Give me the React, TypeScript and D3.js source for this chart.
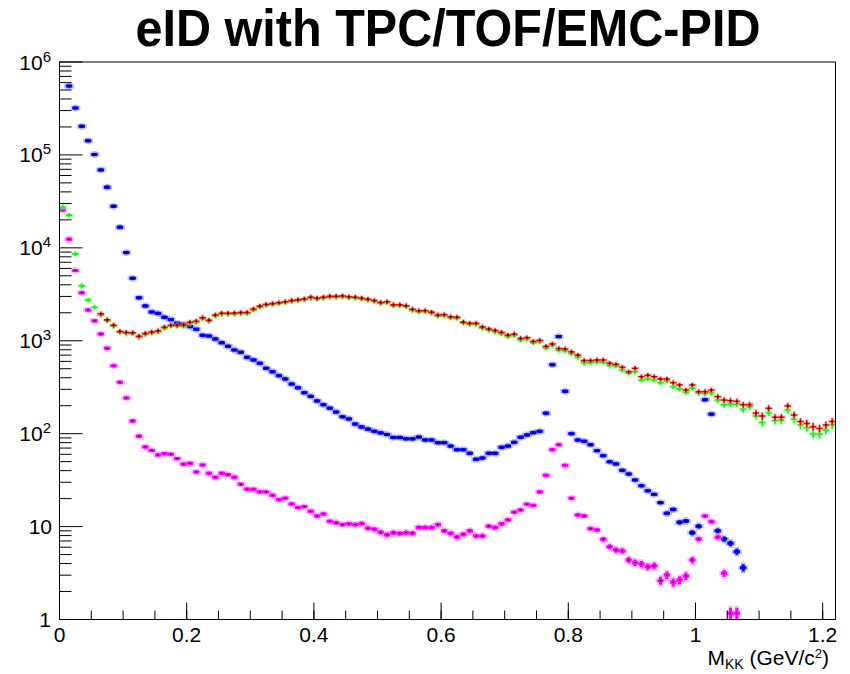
import React from "react";
import * as d3 from "d3";

// ---- data (bin width 0.01 GeV/c^2, bin k covers [k*0.01, (k+1)*0.01]) ----
const binWidth = 0.01;

const blueValues: (number | null)[] = [
  null, 5.5e5, 3.2e5, 2.03e5, 1.42e5, 1.01e5, 6.9e4, 4.5e4, 2.8e4, 1.67e4,
  8.9e3, 4.7e3, 2.9e3, 2.37e3, 2.04e3, 1.97e3, 1.79e3, 1.69e3, 1.54e3, 1.5e3,
  1.42e3, 1.33e3, 1145, 1125, 1045, 953, 871, 795, 750, 663,
  621, 572, 505, 464, 421, 388, 342, 312, 276, 252,
  225, 205, 188, 171, 152, 144, 127, 118, 112, 106,
  102, 98, 91, 91, 88, 88, 92, 85.5, 85.5, 80,
  80, 73.6, 67.2, 67.2, 61.5, 53, 54.7, 61.5, 61.5, 71.3,
  73.6, 80.7, 91.4, 96.8, 102.5, 106, 166, 552, 1110, 286,
  100, 85.5, 82.8, 76, 65.6, 58, 49.9, 47.2, 40.3, 36.8,
  31.7, 27.5, 24.3, 22.2, 18.1, 13.9, 15.3, 11.1, 11.5, 8.6,
  10.1, 232, 162, 9.0, 7.35, 6.6, 5.37, 3.61,
];

const magentaValues: (number | null)[] = [
  2.55e4, 1.24e4, 5.7e3, 3.29e3, 2.14e3, 1.64e3, 1.18e3, 829, 538, 357,
  242, 137, 94, 72, 66, 59, 61, 60, 54, 47,
  48, 38.7, 46, 37.4, 33.9, 37.4, 36.2, 33.9, 28.5, 25.3,
  25.2, 23.6, 23.6, 21.7, 19.5, 20.2, 17.5, 16.0, 16.4, 14.6,
  13.0, 13.7, 11.4, 11.0, 10.5, 10.7, 10.5, 10.8, 9.58, 9.35,
  8.67, 8.18, 8.6, 8.45, 8.6, 8.5, 9.8, 9.8, 9.8, 10.5,
  9.0, 8.47, 7.73, 8.26, 9.0, 7.92, 7.92, 10.1, 9.8, 10.7,
  11.8, 14.3, 15.1, 17.4, 16.9, 23.6, 35.6, 67.2, 76, 45.6,
  20.2, 13.3, 13.0, 9.5, 9.2, 7.3, 6.08, 5.6, 5.46, 4.37,
  4.09, 3.96, 3.7, 3.79, 2.62, 3.01, 2.51, 2.66, 2.94, 4.37,
  7.35, 13.0, 11.3, 7.7, 3.14, 1.17, 1.17,
];

const greenValues: (number | null)[] = [
  2.73e4, 2.25e4, 8.6e3, 3.9e3, 2.74e3, 2.29e3, 1.89e3, 1.64e3, 1.44e3, 1.23e3,
  1.2e3, 1.2e3, 1.09e3, 1.17e3, 1.21e3, 1.25e3, 1.36e3, 1.44e3, 1.44e3, 1.44e3,
  1.54e3, 1.58e3, 1.73e3, 1.62e3, 1.85e3, 1.94e3, 1.94e3, 1.94e3, 1.97e3, 1.97e3,
  2.14e3, 2.31e3, 2.42e3, 2.47e3, 2.52e3, 2.58e3, 2.66e3, 2.7e3, 2.77e3, 2.88e3,
  2.82e3, 2.88e3, 2.95e3, 2.95e3, 2.98e3, 2.91e3, 2.88e3, 2.82e3, 2.74e3, 2.66e3,
  2.53e3, 2.58e3, 2.39e3, 2.39e3, 2.33e3, 2.12e3, 2.05e3, 2.06e3, 1.98e3, 1.84e3,
  1.86e3, 1.76e3, 1.74e3, 1.55e3, 1.5e3, 1.5e3, 1.37e3, 1.3e3, 1.25e3, 1.19e3,
  1.11e3, 1.14e3, 1.02e3, 1.04e3, 950, 975, 835, 890, 790, 780,
  725, 665, 580, 582, 590, 586, 544, 535, 484, 446,
  464, 378, 388, 378, 354, 370, 320, 303, 279, 310,
  274, 270, 274, 230, 205, 208, 208, 183, 195, 155,
  132, 168, 138, 140, 180, 143, 124, 116, 99, 99,
  109, 124,
];

const redValues: (number | null)[] = [
  null, null, null, null, null, null, 1.95e3, 1.68e3, 1.47e3, 1.26e3,
  1.23e3, 1.22e3, 1.12e3, 1.2e3, 1.24e3, 1.28e3, 1.4e3, 1.47e3, 1.47e3, 1.48e3,
  1.58e3, 1.62e3, 1.77e3, 1.66e3, 1.89e3, 1.98e3, 1.98e3, 1.99e3, 2.01e3, 2.02e3,
  2.19e3, 2.36e3, 2.46e3, 2.51e3, 2.57e3, 2.63e3, 2.71e3, 2.76e3, 2.82e3, 2.94e3,
  2.87e3, 2.94e3, 3.01e3, 3.01e3, 3.04e3, 2.97e3, 2.94e3, 2.87e3, 2.8e3, 2.71e3,
  2.58e3, 2.63e3, 2.44e3, 2.44e3, 2.38e3, 2.18e3, 2.1e3, 2.11e3, 2.03e3, 1.89e3,
  1.91e3, 1.81e3, 1.79e3, 1.59e3, 1.54e3, 1.54e3, 1.41e3, 1.34e3, 1.29e3, 1.23e3,
  1.15e3, 1.18e3, 1.06e3, 1.08e3, 985, 1010, 870, 925, 825, 815,
  760, 700, 612, 612, 620, 621, 572, 557, 518, 464,
  505, 410, 425, 410, 388, 388, 354, 334, 295, 334,
  283, 283, 295, 250, 230, 226, 223, 205, 205, 166,
  155, 188, 150, 150, 199, 159, 135, 129, 119, 114,
  124, 135,
];

const xTickValues = [0, 0.2, 0.4, 0.6, 0.8, 1.0, 1.2];
const xTickLabels = ["0", "0.2", "0.4", "0.6", "0.8", "1", "1.2"];
const yTickExponents = [0, 1, 2, 3, 4, 5, 6];

const titleText = "eID with TPC/TOF/EMC-PID";

// ---- layout ----
const W = 850;
const H = 674;
const FL = 59.5;
const FR = 835.5;
const FT = 62;
const FB = 619.5;
const FONT = "'Liberation Sans', Arial, Helvetica, sans-serif";

const x = d3.scaleLinear().domain([0, 1.22]).range([FL, 835.4]);
const y = d3.scaleLog().domain([1, 1e6]).range([FB, FT]);

type SeriesProps = {
  values: (number | null)[];
  color: string;
  halo: string;
  lw: number;
  errScale: number;
  dot: null | { w: number; h: number };
  minHalf: number;
};

function Series({ values, color, halo, lw, errScale, dot, minHalf }: SeriesProps) {
  const pts = values
    .map((v, k) => {
      if (v == null || v <= 0) return null;
      const x0 = x(k * binWidth);
      const x1 = x((k + 1) * binWidth);
      const cx = (x0 + x1) / 2;
      const cy = y(v);
      const e = Math.sqrt(v * errScale) / errScale;
      const yTop = Math.min(y(v + e), cy - minHalf);
      const yBot = Math.max(v - e > 0 ? y(v - e) : FB + 20, cy + minHalf);
      return { k, x0, x1, cx, cy, yTop, yBot };
    })
    .filter((p): p is NonNullable<typeof p> => p != null);
  return (
    <g>
      <g stroke={halo} strokeWidth={lw + 1.6} strokeLinecap="square">
        {pts.map((p) => (
          <g key={"h" + p.k}>
            <line x1={p.x0 + 0.5} x2={p.x1 - 0.5} y1={p.cy} y2={p.cy} />
            <line x1={p.cx} x2={p.cx} y1={p.yTop + 0.5} y2={p.yBot - 0.5} />
          </g>
        ))}
      </g>
      <g stroke={color} strokeWidth={lw}>
        {pts.map((p) => (
          <g key={"c" + p.k}>
            <line x1={p.x0} x2={p.x1} y1={p.cy} y2={p.cy} />
            <line x1={p.cx} x2={p.cx} y1={p.yTop} y2={p.yBot} />
          </g>
        ))}
      </g>
      {dot && (
        <g fill="#000">
          {pts.map((p) => (
            <rect key={"d" + p.k} x={p.cx - dot.w / 2} y={p.cy - dot.h / 2} width={dot.w} height={dot.h} />
          ))}
        </g>
      )}
    </g>
  );
}

export default function App() {
  const yMinor: number[] = [];
  for (let d = 0; d < 6; d++) for (let m = 2; m <= 9; m++) yMinor.push(m * Math.pow(10, d));
  const xMinor: number[] = [];
  for (let i = 0; i <= 24; i++) xMinor.push(i * 0.05);

  return (
    <svg
      width={W}
      height={H}
      style={{ position: "absolute", left: 0, top: 0, background: "#fff" }}
      fontFamily={FONT}
    >
      <rect x={0} y={0} width={W} height={H} fill="#fff" />
      <defs>
        <clipPath id="frameClip">
          <rect x={FL} y={FT} width={FR - FL} height={FB - FT} />
        </clipPath>
      </defs>

      {/* title */}
      <text
        x={448}
        y={46}
        textAnchor="middle"
        fontSize={52}
        fontWeight="bold"
        textLength={625}
        lengthAdjust="spacingAndGlyphs"
      >
        {titleText}
      </text>

      {/* data */}
      <g clipPath="url(#frameClip)">
        <Series values={blueValues} color="#0000ff" halo="rgba(120,120,255,0.45)" lw={3} errScale={33} dot={{ w: 2, h: 1 }} minHalf={1.6} />
        <Series values={magentaValues} color="#ff00ff" halo="rgba(255,120,255,0.45)" lw={3} errScale={40} dot={{ w: 1.5, h: 1 }} minHalf={1.6} />
        <Series values={greenValues} color="#00ff00" halo="rgba(120,255,120,0.4)" lw={1.6} errScale={1} dot={null} minHalf={2.2} />
        <Series values={redValues} color="#ff0000" halo="rgba(255,120,120,0.35)" lw={1.5} errScale={1} dot={{ w: 1.5, h: 1.5 }} minHalf={2.2} />
      </g>

      {/* frame */}
      <rect x={FL} y={FT} width={FR - FL} height={FB - FT} fill="none" stroke="#000" strokeWidth={1} />

      {/* y ticks */}
      {yTickExponents.map((p) => {
        const yy = y(Math.pow(10, p));
        return <line key={"yM" + p} x1={FL} x2={FL + 23} y1={yy} y2={yy} stroke="#000" strokeWidth={1} />;
      })}
      {yMinor.map((v, i) => {
        const yy = y(v);
        return <line key={"ym" + i} x1={FL} x2={FL + 12} y1={yy} y2={yy} stroke="#000" strokeWidth={1} />;
      })}

      {/* x ticks */}
      {xMinor.map((v, i) => {
        const xx = x(v);
        return <line key={"xm" + i} x1={xx} x2={xx} y1={FB} y2={FB - 9} stroke="#000" strokeWidth={1} />;
      })}
      {xTickValues.map((v, i) => {
        const xx = x(v);
        return <line key={"xM" + i} x1={xx} x2={xx} y1={FB} y2={FB - 17} stroke="#000" strokeWidth={1} />;
      })}

      {/* y labels */}
      {yTickExponents.map((p) => {
        const yy = y(Math.pow(10, p));
        if (p === 0)
          return (
            <text key={"yl" + p} x={51} y={yy + 7.5} textAnchor="end" fontSize={21}>
              1
            </text>
          );
        if (p === 1)
          return (
            <text key={"yl" + p} x={52} y={yy + 7.5} textAnchor="end" fontSize={21}>
              10
            </text>
          );
        return (
          <text key={"yl" + p} x={51} y={yy + 7.5} textAnchor="end" fontSize={21}>
            10
            <tspan fontSize={15} dy={-8}>
              {String(p)}
            </tspan>
          </text>
        );
      })}

      {/* x labels */}
      {xTickValues.map((v, i) => (
        <text key={"xl" + i} x={x(v)} y={642} textAnchor="middle" fontSize={21}>
          {xTickLabels[i]}
        </text>
      ))}

      {/* x axis title */}
      <text x={829} y={665} textAnchor="end" fontSize={21}>
        M
        <tspan fontSize={14} dy={4}>KK</tspan>
        <tspan dy={-4}> (GeV/c</tspan>
        <tspan fontSize={13} dy={-7}>2</tspan>
        <tspan dy={7}>)</tspan>
      </text>
    </svg>
  );
}
